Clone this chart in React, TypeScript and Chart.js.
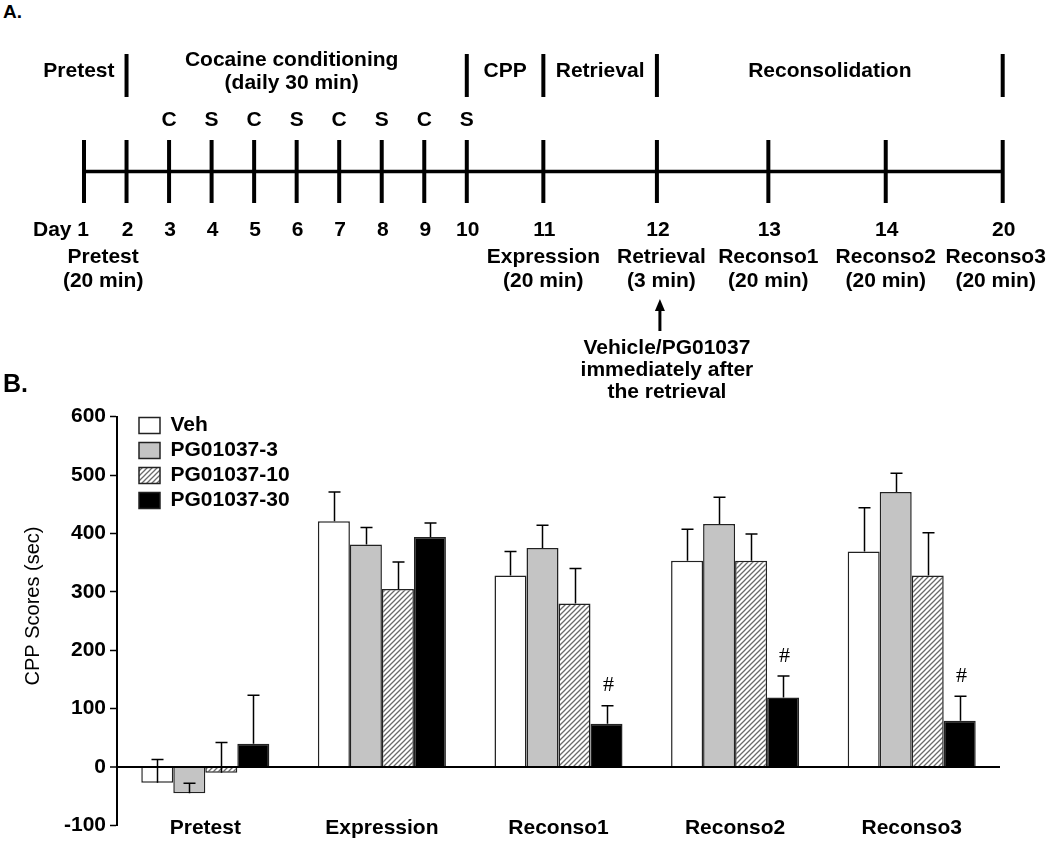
import React, { useEffect, useRef } from 'react';
import { Chart, registerables } from 'chart.js';

Chart.register(...registerables);

const FAMILY = '"Liberation Sans", Arial, Helvetica, sans-serif';
const BOLD21 = `bold 21px ${FAMILY}`;

// ---------------- Panel A: timeline ----------------
const dayLabels = ['1', '2', '3', '4', '5', '6', '7', '8', '9', '10', '11', '12', '13', '14', '20'];
// relative position of each day along the timeline (one conditioning day = 1 unit)
const dayPositions = [0, 1, 2, 3, 4, 5, 6, 7, 8, 9, 10.8, 13.47, 16.09, 18.85, 21.6];
const cueLabels = ['', '', 'C', 'S', 'C', 'S', 'C', 'S', 'C', 'S', '', '', '', '', ''];
const phaseDividers = [1, 9, 10, 11, 14];
const phaseLabels = [['Pretest'], ['Cocaine conditioning', '(daily 30 min)'], ['CPP'], ['Retrieval'], ['Reconsolidation']];
const sessionAt = [0.45, 10, 11.04, 12, 13, 13.94];
const sessionLabels = [
  ['Pretest', '(20 min)'],
  ['Expression', '(20 min)'],
  ['Retrieval', '(3 min)'],
  ['Reconso1', '(20 min)'],
  ['Reconso2', '(20 min)'],
  ['Reconso3', '(20 min)'],
];
const treatmentDay = 11;
const treatmentNote = ['Vehicle/PG01037', 'immediately after', 'the retrieval'];

// ---------------- Panel B: bar chart ----------------
const categories = ['Pretest', 'Expression', 'Reconso1', 'Reconso2', 'Reconso3'];
const seriesNames = ['Veh', 'PG01037-3', 'PG01037-10', 'PG01037-30'];
const vehMeans = [-27, 421, 328, 353, 369];
const vehSem = [40, 50, 41, 54, 75];
const pg3Means = [-45, 381, 375, 416, 471];
const pg3Sem = [17, 29, 39, 46, 32];
const pg10Means = [-10, 305, 280, 353, 328];
const pg10Sem = [52, 46, 60, 46, 73];
const pg30Means = [40, 394, 74, 119, 79];
const pg30Sem = [83, 24, 31, 37, 42];
const pg30Marks = ['', '', '#', '#', '#'];
const yTicks = [-100, 0, 100, 200, 300, 400, 500, 600];
const yTitle = 'CPP Scores (sec)';

function posAt(idx: number) {
  const i = Math.floor(idx);
  const f = idx - i;
  if (f === 0 || i >= dayPositions.length - 1) return dayPositions[Math.min(i, dayPositions.length - 1)];
  return dayPositions[i] + (dayPositions[i + 1] - dayPositions[i]) * f;
}

function makeHatch(): CanvasPattern | string {
  const c = document.createElement('canvas');
  const s = 5;
  c.width = s;
  c.height = s;
  const g = c.getContext('2d');
  if (!g) return '#aaa';
  g.fillStyle = '#fff';
  g.fillRect(0, 0, s, s);
  g.strokeStyle = '#6a6a6a';
  g.lineWidth = 1.3;
  g.beginPath();
  g.moveTo(-1, s + 1);
  g.lineTo(s + 1, -1);
  g.moveTo(-2, 2);
  g.lineTo(2, -2);
  g.moveTo(s - 2, s + 2);
  g.lineTo(s + 2, s - 2);
  g.stroke();
  const p = g.createPattern(c, 'repeat');
  return p || '#aaa';
}

const annotateA = {
  id: 'annotateA',
  afterDatasetsDraw(chart: any) {
    const { ctx, scales } = chart;
    const xs = scales.x;
    const ys = scales.y;
    const px = (p: number) => xs.getPixelForValue(p);
    const py = (v: number) => ys.getPixelForValue(v);
    ctx.save();
    ctx.fillStyle = '#000';
    ctx.strokeStyle = '#000';
    ctx.textBaseline = 'middle';
    ctx.font = BOLD21;

    // phase headers
    phaseLabels.forEach((lines, i) => {
      let x: number;
      if (i === 0) {
        ctx.textAlign = 'right';
        x = px(dayPositions[phaseDividers[0]]) - 12;
      } else {
        ctx.textAlign = 'center';
        x = (px(dayPositions[phaseDividers[i - 1]]) + px(dayPositions[phaseDividers[i] ?? phaseDividers[i - 1]])) / 2;
      }
      if (lines.length === 1) {
        ctx.fillText(lines[0], x, py(71));
      } else {
        ctx.fillText(lines[0], x - 5, py(60));
        ctx.fillText(lines[1], x - 5, py(83));
      }
    });

    // cue labels
    ctx.textAlign = 'center';
    cueLabels.forEach((c, i) => {
      if (c) ctx.fillText(c, px(dayPositions[i]), py(120));
    });

    // day numbers
    dayLabels.forEach((d, i) => {
      if (i === 0) {
        ctx.textAlign = 'right';
        ctx.fillText('Day ' + d, px(dayPositions[i]) + 5, py(230));
      } else {
        ctx.textAlign = 'center';
        ctx.fillText(d, px(dayPositions[i]) + 1, py(230));
      }
    });

    // session labels
    ctx.textAlign = 'center';
    sessionAt.forEach((idx, i) => {
      const x = px(posAt(idx));
      ctx.fillText(sessionLabels[i][0], x, py(257));
      ctx.fillText(sessionLabels[i][1], x, py(281));
    });

    // arrow
    const ax = px(dayPositions[treatmentDay]) + 3;
    ctx.lineWidth = 3;
    ctx.beginPath();
    ctx.moveTo(ax, py(331));
    ctx.lineTo(ax, py(308));
    ctx.stroke();
    ctx.beginPath();
    ctx.moveTo(ax, py(299));
    ctx.lineTo(ax - 5, py(311));
    ctx.lineTo(ax + 5, py(311));
    ctx.closePath();
    ctx.fill();

    treatmentNote.forEach((t, i) => {
      ctx.fillText(t, ax + 7, py(348 + i * 22));
    });
    ctx.restore();
  },
};

const barDecor = {
  id: 'barDecor',
  afterDatasetsDraw(chart: any) {
    const { ctx, scales, chartArea } = chart;
    const ys = scales.y;
    const xs = scales.x;
    ctx.save();
    ctx.strokeStyle = '#000';
    ctx.lineWidth = 1.5;
    chart.data.datasets.forEach((ds: any, i: number) => {
      const meta = chart.getDatasetMeta(i);
      meta.data.forEach((el: any, j: number) => {
        const v = ds.data[j];
        const e = ds.errors[j];
        const y0 = ys.getPixelForValue(v);
        const y1 = ys.getPixelForValue(v + e);
        const x = Math.round(el.x) + 0.5;
        ctx.beginPath();
        ctx.moveTo(x, y0);
        ctx.lineTo(x, y1);
        ctx.moveTo(x - 6, y1);
        ctx.lineTo(x + 6, y1);
        ctx.stroke();
        if (ds.marks && ds.marks[j]) {
          ctx.save();
          ctx.fillStyle = '#000';
          ctx.font = `22px "Liberation Serif", "Times New Roman", serif`;
          ctx.textAlign = 'center';
          ctx.textBaseline = 'middle';
          ctx.fillText(ds.marks[j], x + 1, y1 - 20);
          ctx.restore();
        }
      });
    });
    // category labels along the bottom of the axis
    ctx.fillStyle = '#000';
    ctx.font = BOLD21;
    ctx.textAlign = 'center';
    ctx.textBaseline = 'middle';
    categories.forEach((c, i) => {
      ctx.fillText(c, xs.getPixelForValue(i), chartArea.bottom + 3);
    });
    ctx.restore();
  },
  afterDraw(chart: any) {
    const { ctx, chartArea } = chart;
    ctx.save();
    ctx.translate(chartArea.left - 84, (chartArea.top + chartArea.bottom) / 2 - 15);
    ctx.rotate(-Math.PI / 2);
    ctx.fillStyle = '#000';
    ctx.font = `20px ${FAMILY}`;
    ctx.textAlign = 'center';
    ctx.textBaseline = 'middle';
    ctx.fillText(yTitle, 0, 0);
    ctx.restore();
  },
};

const legendShift = {
  id: 'legendShift',
  afterLayout(chart: any) {
    if (chart.legend) {
      chart.legend.left += 18;
      chart.legend.top += 11;
    }
  },
};

export default function App() {
  const refA = useRef<HTMLCanvasElement | null>(null);
  const refB = useRef<HTMLCanvasElement | null>(null);

  useEffect(() => {
    Chart.defaults.font.family = FAMILY;
    const last = dayPositions.length - 1;
    const chartA = new Chart(refA.current as HTMLCanvasElement, {
      type: 'scatter',
      data: {
        datasets: [
          {
            type: 'line',
            data: [
              { x: dayPositions[0], y: 171.5 },
              { x: dayPositions[last], y: 171.5 },
            ],
            borderColor: '#000',
            borderWidth: 3.5,
            pointRadius: 0,
            clip: false,
          } as any,
          {
            data: dayPositions.map((p) => ({ x: p, y: 171.5 })),
            pointStyle: 'line',
            pointRadius: 31.5,
            pointRotation: 90,
            pointBorderWidth: 4,
            pointBorderColor: '#000',
            pointBackgroundColor: '#000',
            borderColor: '#000',
            clip: false,
          } as any,
          {
            data: phaseDividers.map((i) => ({ x: dayPositions[i], y: 75.5 })),
            pointStyle: 'line',
            pointRadius: 21.5,
            pointRotation: 90,
            pointBorderWidth: 4,
            pointBorderColor: '#000',
            pointBackgroundColor: '#000',
            borderColor: '#000',
            clip: false,
          } as any,
        ],
      },
      options: {
        responsive: false,
        maintainAspectRatio: false,
        animation: false,
        devicePixelRatio: 1,
        events: [],
        layout: { padding: { left: 84, right: 47.3, top: 40, bottom: 40 } },
        scales: {
          x: { type: 'linear', min: 0, max: dayPositions[last], display: false },
          y: { type: 'linear', min: 0, max: 420, reverse: true, display: false },
        },
        plugins: { legend: { display: false }, tooltip: { enabled: false } },
      },
      plugins: [annotateA],
    });

    const hatch = makeHatch();
    const fills = ['#ffffff', '#c4c4c4', hatch, '#000000'];
    const means = [vehMeans, pg3Means, pg10Means, pg30Means];
    const sems = [vehSem, pg3Sem, pg10Sem, pg30Sem];
    const marks = [[], [], [], pg30Marks];

    const chartB = new Chart(refB.current as HTMLCanvasElement, {
      type: 'bar',
      data: {
        labels: categories,
        datasets: seriesNames.map((name, i) => ({
          label: name,
          data: means[i],
          errors: sems[i],
          marks: marks[i],
          backgroundColor: fills[i] as any,
          borderColor: '#222',
          borderWidth: 1.5,
          categoryPercentage: 0.725,
          barPercentage: 1,
        })) as any,
      },
      options: {
        responsive: false,
        maintainAspectRatio: false,
        animation: false,
        devicePixelRatio: 1,
        events: [],
        layout: { padding: { left: 0, right: 50, top: 16.5, bottom: 0 } },
        scales: {
          x: {
            grid: { display: false, drawTicks: false },
            border: { display: false },
            ticks: { display: false },
            afterFit: (s: any) => {
              s.height = 13.5;
            },
          },
          y: {
            min: -100,
            max: 600,
            afterBuildTicks: (s: any) => {
              s.ticks = yTicks.map((v) => ({ value: v }));
            },
            afterFit: (s: any) => {
              s.width = 117;
            },
            ticks: { font: { size: 21, weight: 'bold', family: FAMILY }, color: '#000', padding: 4 },
            grid: {
              color: (c: any) => (c.tick && c.tick.value === 0 ? '#000' : 'rgba(0,0,0,0)'),
              lineWidth: (c: any) => (c.tick && c.tick.value === 0 ? 2 : 1),
              tickColor: '#000',
              tickLength: 7,
              tickWidth: 1.5,
            },
            border: { display: true, color: '#000', width: 2 },
          },
        } as any,
        plugins: {
          legend: {
            position: 'chartArea' as any,
            align: 'start',
            labels: {
              boxWidth: 21,
              boxHeight: 16,
              padding: 4,
              color: '#000',
              font: { size: 21, weight: 'bold', family: FAMILY },
            },
          },
          tooltip: { enabled: false },
        },
      },
      plugins: [barDecor, legendShift],
    });

    return () => {
      chartA.destroy();
      chartB.destroy();
    };
  }, []);

  return (
    <div
      style={{
        position: 'absolute',
        left: 0,
        top: 0,
        width: 1050,
        height: 842,
        background: '#fff',
        overflow: 'hidden',
        fontFamily: FAMILY,
      }}
    >
      <div style={{ position: 'absolute', left: 3, top: 1, fontSize: 19, fontWeight: 'bold', lineHeight: '22px' }}>A.</div>
      <canvas ref={refA} width={1050} height={500} style={{ position: 'absolute', left: 0, top: -40, width: 1050, height: 500 }} />
      <canvas ref={refB} width={1050} height={442} style={{ position: 'absolute', left: 0, top: 400, width: 1050, height: 442 }} />
      <div style={{ position: 'absolute', left: 3, top: 368, fontSize: 25, fontWeight: 'bold', lineHeight: '30px' }}>B.</div>
    </div>
  );
}
